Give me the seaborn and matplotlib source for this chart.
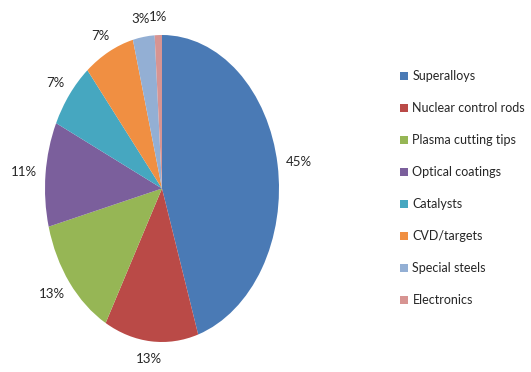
import matplotlib
matplotlib.use("Agg")
import numpy as np
import matplotlib.pyplot as plt
import seaborn as sns
from matplotlib.patches import Patch

categories = ["Superalloys", "Nuclear control rods", "Plasma cutting tips",
              "Optical coatings", "Catalysts", "CVD/targets",
              "Special steels", "Electronics"]
shares = [45, 13, 13, 11, 7, 7, 3, 1]
colors = ["#4A7AB5", "#BA4A47", "#96B655", "#7B5F9C",
          "#46A7C0", "#F08F42", "#93AFD4", "#D79492"]

sns.set_theme(style="white")
plt.rcParams["font.family"] = ["Lato", "DejaVu Sans"]
palette = sns.color_palette(colors)

W, H = 531, 372
fig = plt.figure(figsize=(W / 100, H / 100), dpi=100)
# elliptical pie area: x 45..279, y 35..342 (pixels from top)
ax = fig.add_axes([45 / W, (H - 342) / H, 234 / W, 307 / H])
wedges, _ = ax.pie(shares, colors=palette, startangle=90, counterclock=False,
                   radius=1.0, wedgeprops=dict(linewidth=0))
ax.set_aspect("auto")
ax.set_xlim(-1, 1)
ax.set_ylim(-1, 1)
ax.axis("off")

fig.canvas.draw()
renderer = fig.canvas.get_renderer()
inv = ax.transData.inverted()
gap = 0.077
for w, s in zip(wedges, shares):
    th = np.deg2rad((w.theta1 + w.theta2) / 2)
    c, si = np.cos(th), np.sin(th)
    t = ax.text(0, 0, f"{s}%", ha="center", va="center",
                fontsize=9.5, color="#262626")
    bb = t.get_window_extent(renderer)
    (x0, y0), (x1, y1) = inv.transform([[bb.x0, bb.y0], [bb.x1, bb.y1]])
    hw, hh = (x1 - x0) / 2, (y1 - y0) / 2
    t.set_position(((1 + gap) * c + c * hw, (1 + gap) * si + si * hh))

handles = [Patch(facecolor=col, edgecolor="none") for col in palette]
fig.legend(handles, categories, loc="upper left",
           bbox_to_anchor=(400 / W, 1 - 70 / H),
           frameon=False, fontsize=9, handlelength=0.6, handleheight=0.6,
           handletextpad=0.4, labelspacing=1.6, borderpad=0, borderaxespad=0,
           labelcolor="#262626")

fig.savefig("out.png", dpi=100)
